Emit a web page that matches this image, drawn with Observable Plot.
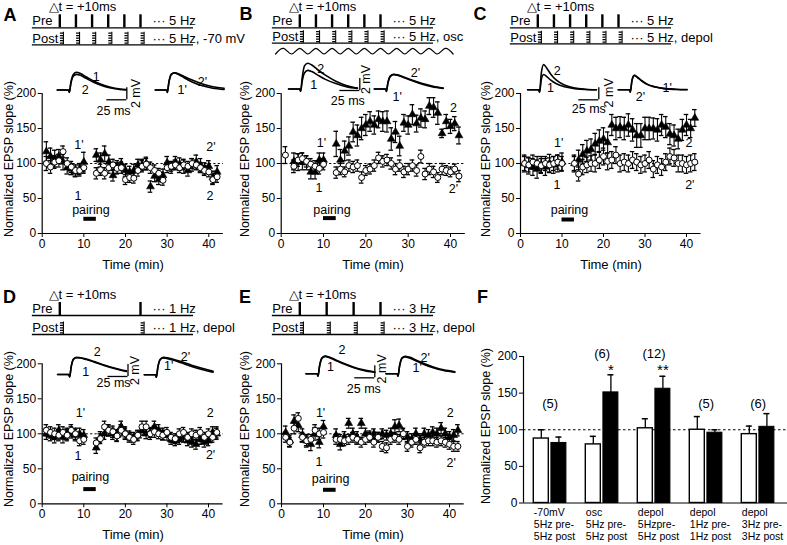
<!DOCTYPE html>
<html>
<head>
<meta charset="utf-8">
<script src="https://cdn.jsdelivr.net/npm/d3@7"></script>
<script src="https://cdn.jsdelivr.net/npm/@observablehq/plot@0.6"></script>
<style>
html,body{margin:0;padding:0;background:#fff;}
#fig{position:relative;width:787px;height:545px;overflow:hidden;background:#fff;font-family:"Liberation Sans",Arial,Helvetica,sans-serif;color:#000;}
#fig svg{position:absolute;left:0;top:0;}
.t{position:absolute;white-space:nowrap;line-height:1;transform:translate(-50%,-50%);}
</style>
</head>
<body>
<div id="fig"></div>
<script>
// ---------------- data ----------------
const minutes = [1,2,3,4,5,6,7,8,9,10,13,14,15,16,17,18,19,20,21,22,23,24,25,26,27,28,29,30,31,32,33,34,35,36,37,38,39,40,41,42];
const yTicks = [0,50,100,150,200];
const xTicks = [0,10,20,30,40];
const pairingMin = [10,13];

// Panel A (-70 mV)
const triA     = [117,110,107,110,102,94,92,88,92,102, 112,105,114,102,83,95,99,90,88,90,98,98,100,67,82,77,83,101,94,102,99,96,90,98,102,98,93,96,80,88];
const triAErr  = [14,12,12,10,11,9,8,7,8,14, 9,10,11,10,8,9,8,9,8,9,8,8,9,8,8,7,9,9,8,8,9,10,8,9,10,9,8,8,9,9];
const circA    = [100,95,102,104,117,100,95,90,90,94, 86,91,86,94,98,93,94,77,80,79,90,96,99,94,90,86,76,94,96,98,94,98,96,100,98,94,90,88,77,81];
const circAErr = [10,9,9,9,8,8,8,8,8,8, 8,8,8,8,8,8,8,7,7,7,8,8,8,8,8,7,7,7,7,7,7,7,7,7,7,7,7,7,7,8];

// Panel B (osc)
const triB     = [null,null,103,102,103,101,88,88,105,105, 128,105,118,125,145,140,150,155,160,155,163,160,160,135,145,125,158,155,170,157,165,163,182,180,172,143,160,153,157,140];
const triBErr  = [null,null,12,12,12,10,10,10,10,10, 18,15,14,13,14,15,16,15,14,13,12,14,15,16,15,14,12,13,14,12,13,12,12,14,16,6,10,10,10,12];
const circB    = [112,null,96,105,107,103,99,96,93,99, 87,92,88,97,95,97,80,90,92,97,108,103,105,100,92,97,88,92,97,90,110,85,92,88,80,92,90,88,92,82];
const circBErr = [12,null,9,9,8,8,8,8,8,8, 8,8,7,8,8,8,8,7,7,8,8,8,8,8,8,8,8,8,8,8,9,8,8,8,7,8,7,7,7,8];

// Panel C (depol, 5 Hz)
const triC     = [100,97,95,92,98,95,100,98,100,102, 100,105,113,118,120,128,132,135,130,155,150,152,150,155,148,140,140,150,150,150,148,155,152,142,140,135,148,155,150,165];
const triCErr  = [12,12,12,13,12,12,13,12,12,13, 12,14,14,15,15,15,16,16,15,15,16,15,16,16,16,17,17,16,16,15,16,15,15,15,15,14,15,15,13,12];
const circC    = [100,98,102,100,97,100,98,100,102,100, 100,85,95,98,100,100,105,110,103,105,112,100,102,100,105,102,98,100,105,92,98,95,102,110,108,100,100,98,100,102];
const circCErr = [10,10,10,10,10,10,10,10,10,10, 10,10,11,11,11,12,12,12,12,12,12,12,12,12,12,12,12,12,12,12,12,12,12,12,12,12,12,12,12,12];

// Panel D (depol, 1 Hz)
const triD     = [100,98,95,105,95,100,102,98,100,98, 80,95,100,105,100,98,110,102,97,95,97,105,100,102,110,105,100,98,92,90,92,95,90,88,85,92,88,90,102,100];
const triDErr  = [8,8,8,8,8,8,8,8,8,8, 8,8,8,8,8,8,8,8,7,7,7,7,7,7,8,8,8,7,7,7,7,7,7,7,7,7,7,7,8,8];
const circD    = [105,102,100,98,102,98,105,100,90,92, 87,93,110,105,103,97,105,100,95,92,98,110,110,100,103,100,98,102,95,93,100,102,95,100,98,102,95,100,95,102];
const circDErr = [8,8,8,8,8,8,8,8,7,7, 7,7,8,8,8,8,8,8,7,7,7,8,8,8,8,7,7,7,7,7,7,7,7,7,7,7,7,7,7,8];

// Panel E (depol, 3 Hz)
const triE     = [102,90,118,112,98,90,85,100,88,110, 98,85,95,115,100,95,115,100,97,100,95,100,98,100,110,112,100,95,92,100,92,100,98,102,100,108,100,95,98,105];
const triEErr  = [9,8,9,9,9,9,9,9,8,9, 9,8,8,7,8,8,7,8,7,7,7,7,7,8,10,9,8,8,8,8,8,8,8,8,8,8,8,8,8,8];
const circE    = [95,88,108,122,95,90,92,105,100,102, 92,92,90,92,95,92,88,92,95,88,95,82,80,92,95,92,100,82,88,92,80,88,90,90,88,90,88,85,82,82];
const circEErr = [7,7,8,8,7,7,7,8,8,8, 7,7,7,7,7,7,7,7,7,7,7,7,7,7,7,7,7,7,7,7,7,7,7,7,7,7,7,7,7,7];

// schematics: pulse times (ms)
const pulses5Hz = [0,200,400,600,800,1000];
const pulses3Hz = [0,333,667,1000];
const pulses1Hz = [0,1000];
const oscMs    = [-300,-200,-100,0,100,200,300,400,500,600,700,800,900,1000,1100,1200,1300,1400,1500,1600,1700,1800,1900];
const oscLevel = [-1,1,-1,1,-1,1,-1,1,-1,1,-1,1,-1,1,-1,1,-1,1,-1,1,-1,1,-1];

// EPSP traces (mV at traceMs)
const traceMs  = [-14,0,1,3,6,10,15,22,32,45,58,72];
const traceA1  = [0,0,-0.4,1.3,2.6,2.95,2.75,2.2,1.45,0.75,0.3,0.08];
const traceA2  = [0,0,-0.4,1.1,2.3,2.6,2.45,1.95,1.25,0.6,0.2,0.0];
const traceA1p = [0,0,-0.4,1.3,2.6,2.85,2.6,2.05,1.35,0.7,0.3,0.1];
const traceA2p = [0,0,-0.4,1.3,2.6,2.85,2.7,2.25,1.65,1.0,0.55,0.3];
const traceB1  = [0,0,-0.4,1.3,2.7,3.1,2.9,2.35,1.6,0.9,0.4,0.1];
const traceB2  = [0,0,-0.4,1.9,3.9,4.3,4.0,3.25,2.3,1.3,0.6,0.15];
const traceB1p = [0,0,-0.4,1.0,2.1,2.4,2.3,1.95,1.45,0.85,0.4,0.1];
const traceB2p = [0,0,-0.4,1.0,2.15,2.45,2.35,2.05,1.55,0.95,0.5,0.15];
const traceC1  = [0,0,-0.4,1.6,2.55,2.2,1.6,1.0,0.5,0.2,0.05,0];
const traceC2  = [0,0,-0.4,2.6,4.2,3.6,2.6,1.6,0.8,0.3,0.1,0];
const traceC1p = [0,0,-0.4,1.5,2.4,2.1,1.55,0.95,0.5,0.2,0.1,0.05];
const traceC2p = [0,0,-0.4,1.5,2.4,2.05,1.5,0.9,0.45,0.15,0.05,0];
const traceD1  = [0,0,-0.4,1.3,2.55,2.8,2.75,2.5,2.05,1.45,0.95,0.5];
const traceD2  = [0,0,-0.4,1.3,2.6,2.85,2.8,2.58,2.15,1.55,1.05,0.6];
const traceD1p = [0,0,-0.4,1.3,2.55,2.8,2.7,2.45,2.0,1.4,0.9,0.45];
const traceD2p = [0,0,-0.4,1.3,2.6,2.9,2.82,2.6,2.2,1.6,1.1,0.6];
const traceE1  = [0,0,-0.4,1.3,2.6,2.9,2.7,2.3,1.7,1.05,0.55,0.25];
const traceE2  = [0,0,-0.4,1.35,2.65,2.95,2.78,2.4,1.8,1.15,0.65,0.3];
const traceE1p = [0,0,-0.4,1.3,2.55,2.8,2.65,2.25,1.65,1.0,0.55,0.25];
const traceE2p = [0,0,-0.4,1.35,2.65,2.92,2.78,2.4,1.8,1.15,0.65,0.35];
const scaleBarMv = 2, scaleBarMs = 25;

// Panel F
const fConds    = ["-70mV","osc","depol 5Hz","depol 1Hz","depol 3Hz"];
const fLabels   = ["-70mV\n5Hz pre-\n5Hz post","osc\n5Hz pre-\n5Hz post","depol\n5Hzpre-\n5Hz post","depol\n1Hz pre-\n1Hz post","depol\n3Hz pre-\n3Hz post"];
const fPre      = [88,80,102,100,94];
const fPreErr   = [12,11,13,18,11];
const fPost     = [82,151,156,96,104];
const fPostErr  = [8,24,17,4,18];
const fN        = ["(5)","(6)","(12)","(5)","(6)"];
const fStars    = ["","*","**","",""];

// ---------------- drawing ----------------
const W = 787, H = 545;
const FONT = '"Liberation Sans", Arial, Helvetica, sans-serif';
const fig = document.getElementById("fig");

function overlay(o) {
  const svg = Plot.plot({
    width: W, height: H,
    marginLeft: o.xRange[0], marginRight: W - o.xRange[1],
    marginTop: o.yRange[1], marginBottom: H - o.yRange[0],
    x: Object.assign({domain: o.xDomain, label: null}, o.x || {}),
    y: Object.assign({domain: o.yDomain, label: null}, o.y || {}),
    style: {background: "transparent", overflow: "visible", fontFamily: FONT, fontSize: "12px", color: "#000"},
    marks: o.marks
  });
  fig.appendChild(svg);
}

function htmlText(s, x, y, size, opts = {}) {
  const d = document.createElement("div");
  d.className = "t";
  d.textContent = s;
  d.style.left = x + "px";
  d.style.top = y + "px";
  d.style.fontSize = size + "px";
  if (opts.bold) d.style.fontWeight = "bold";
  if (opts.rotate) d.style.transform = "translate(-50%,-50%) rotate(" + opts.rotate + "deg)";
  fig.appendChild(d);
}

function rows(v, e) {
  return minutes.map((t, i) => ({t, v: v[i], e: e[i]})).filter(d => d.v != null);
}

function errMarks(data) {
  return [
    Plot.ruleX(data, {x: "t", y1: d => d.v - d.e, y2: d => d.v + d.e, stroke: "#000", strokeWidth: 1.1}),
    Plot.ruleY(data, {y: d => d.v + d.e, x1: d => d.t - 0.55, x2: d => d.t + 0.55, stroke: "#000", strokeWidth: 1.3}),
    Plot.ruleY(data, {y: d => d.v - d.e, x1: d => d.t - 0.55, x2: d => d.t + 0.55, stroke: "#000", strokeWidth: 1.3})
  ];
}

function timePanel(P) {
  const xMax = 43.5;
  const k = (P.x40 - P.x0) / 40;
  const tri = rows(P.tri, P.triErr);
  const circ = rows(P.circ, P.circErr);
  overlay({
    xDomain: [0, xMax], xRange: [P.x0, P.x0 + xMax * k],
    yDomain: [0, 200], yRange: [P.y0, P.y200],
    marks: [
      Plot.ruleY([100], {x1: 0, x2: xMax, stroke: "#000", strokeWidth: 1, strokeDasharray: "2.2,2.2"}),
      Plot.ruleX([0], {y1: 0, y2: 200, stroke: "#000", strokeWidth: 1.2}),
      Plot.ruleY([0], {x1: 0, x2: xMax, stroke: "#000", strokeWidth: 1.2}),
      Plot.axisY({ticks: yTicks, tickSize: 4, tickPadding: 2, label: null, fontSize: 12}),
      Plot.axisX({ticks: xTicks, tickSize: 4, tickPadding: 2, label: null, fontSize: 12}),
      ...errMarks(tri),
      Plot.dot(tri, {x: "t", y: "v", symbol: "triangle", r: 2.9, fill: "#000", stroke: "#000", strokeWidth: 0.6}),
      ...errMarks(circ),
      Plot.dot(circ, {x: "t", y: "v", r: 3, fill: "#fff", stroke: "#000", strokeWidth: 1}),
      Plot.ruleY([P.pairY], {x1: pairingMin[0], x2: pairingMin[1], stroke: "#000", strokeWidth: 4}),
      Plot.text([P.pairText], {x: "x", y: "y", text: () => "pairing", fontSize: 12.5}),
      Plot.text(P.labels, {x: "x", y: "y", text: "s", fontSize: 12.5})
    ]
  });
  htmlText("Time (min)", P.xTitle[0], P.xTitle[1], 13);
  htmlText("Normalized EPSP slope (%)", P.yTitle[0], P.yTitle[1], 12.5, {rotate: -90});
}

function schematic(S) {
  const k = 0.0807;
  const gap = S.postBase - S.preBase;
  const L = -340, R = 1657;
  const marks = [
    Plot.ruleY([gap, 0], {x1: L, x2: R, stroke: "#000", strokeWidth: 1.3}),
    Plot.ruleX(S.pulses, {y1: gap, y2: gap + 13, stroke: "#000", strokeWidth: 2.4}),
    Plot.ruleX(S.pulses, {y1: 0.5, y2: 12.5, dx: 1.7, stroke: "#000", strokeWidth: 3.2, strokeDasharray: "1.3,1.2"}),
    Plot.ruleX(S.pulses, {y1: 0, y2: 12.5, dx: 3.6, stroke: "#000", strokeWidth: 1.1}),
    Plot.text([{x: L, y: gap + 6.8, s: "Pre"}, {x: L, y: 6.3, s: "Post"}, {x: 1149, y: gap + 6.8, s: S.preText}, {x: 1149, y: 6.3, s: S.postText}],
      {x: "x", y: "y", text: "s", textAnchor: "start", fontSize: 13}),
    Plot.text([{x: -140, y: gap + 20.7, s: "\u25B3t = +10ms"}], {x: "x", y: "y", text: "s", textAnchor: "start", fontSize: 13})
  ];
  if (S.osc) {
    marks.push(Plot.line(oscMs.map((m, i) => ({m, v: oscLevel[i]})),
      {x: "m", y: d => -8 + 2.8 * d.v, curve: "natural", stroke: "#000", strokeWidth: 1.2}));
  }
  overlay({
    xDomain: [-500, 2500], xRange: [S.p0 - 500 * k, S.p0 + 2500 * k],
    yDomain: [-30, 40], yRange: [S.postBase + 30, S.postBase - 40],
    x: {axis: null}, y: {axis: null},
    marks
  });
}

function inset(I) {
  const kx = 0.8, ky = 6;
  const marks = I.traces.map(tr => Plot.line(traceMs.map((m, i) => ({m, v: tr[i]})),
    {x: "m", y: "v", curve: "monotone-x", stroke: "#000", strokeWidth: 1.6}));
  marks.push(Plot.text(I.labels, {x: "x", y: "y", text: "s", fontSize: 12.5}));
  if (I.bar) {
    const [bx, by] = I.bar;
    marks.push(Plot.ruleX([bx], {y1: by, y2: by + scaleBarMv, stroke: "#000", strokeWidth: 1.3}));
    marks.push(Plot.ruleY([by], {x1: bx - scaleBarMs, x2: bx, stroke: "#000", strokeWidth: 1.3}));
    marks.push(Plot.text([{x: bx, y: by}], {x: "x", y: "y", text: () => "2 mV", rotate: -90, dx: I.mvOff[0], dy: I.mvOff[1], fontSize: 12.5}));
    marks.push(Plot.text([{x: bx, y: by}], {x: "x", y: "y", text: () => "25 ms", dx: I.msOff[0], dy: I.msOff[1], fontSize: 12.5}));
  }
  overlay({
    xDomain: [-20, 100], xRange: [I.t0 - 20 * kx, I.t0 + 100 * kx],
    yDomain: [-5, 6], yRange: [I.base + 5 * ky, I.base - 6 * ky],
    x: {axis: null}, y: {axis: null},
    marks
  });
}

// ---- schematics
schematic({p0: 59.3, preBase: 27.3, postBase: 44.3, pulses: pulses5Hz, preText: "\u00B7\u00B7\u00B7 5 Hz", postText: "\u00B7\u00B7\u00B7 5 Hz, -70 mV"});
schematic({p0: 299.3, preBase: 27.3, postBase: 42.7, pulses: pulses5Hz, preText: "\u00B7\u00B7\u00B7 5 Hz", postText: "\u00B7\u00B7\u00B7 5 Hz, osc", osc: true});
schematic({p0: 537.3, preBase: 27.3, postBase: 43.3, pulses: pulses5Hz, preText: "\u00B7\u00B7\u00B7 5 Hz", postText: "\u00B7\u00B7\u00B7 5 Hz, depol"});
schematic({p0: 59.3, preBase: 315, postBase: 334, pulses: pulses1Hz, preText: "\u00B7\u00B7\u00B7 1 Hz", postText: "\u00B7\u00B7\u00B7 1 Hz, depol"});
schematic({p0: 299.3, preBase: 315, postBase: 334, pulses: pulses3Hz, preText: "\u00B7\u00B7\u00B7 3 Hz", postText: "\u00B7\u00B7\u00B7 3 Hz, depol"});

// ---- EPSP insets
inset({t0: 68, base: 89.5, traces: [traceA1, traceA2], labels: [{x: 34.6, y: 2.25, s: "1"}, {x: 21, y: 0.03, s: "2"}],
  bar: [72.9, -1.63], mvOff: [8.7, -6.3], msOff: [-13.3, 11.7]});
inset({t0: 166, base: 89.5, traces: [traceA1p, traceA2p], labels: [{x: 45, y: 1.4, s: "2'"}, {x: 19.6, y: 0.03, s: "1'"}]});
inset({t0: 299.3, base: 88.5, traces: [traceB1, traceB2], labels: [{x: 26, y: 3.4, s: "2"}, {x: 17.5, y: 0.6, s: "1"}],
  bar: [75, -0.25], mvOff: [6.5, -11], msOff: [-12, 10]});
inset({t0: 385, base: 88.5, traces: [traceB1p, traceB2p], labels: [{x: 37.5, y: 2.6, s: "2'"}, {x: 14.6, y: -1.4, s: "1'"}]});
inset({t0: 538.3, base: 89.3, traces: [traceC1, traceC2], labels: [{x: 23, y: 3.2, s: "2"}, {x: 14.6, y: 0.33, s: "1"}],
  bar: [75, -1.67], mvOff: [9.7, -7], msOff: [-10, 9]});
inset({t0: 629, base: 89.3, traces: [traceC1p, traceC2p], labels: [{x: 47, y: 0.33, s: "1'"}, {x: 13.75, y: -1.23, s: "2'"}]});
inset({t0: 68.3, base: 374, traces: [traceD1, traceD2], labels: [{x: 35.5, y: 3.7, s: "2"}, {x: 21, y: 0.5, s: "1"}],
  bar: [74, -0.33], mvOff: [7.3, -6], msOff: [-14.4, 7]});
inset({t0: 155, base: 374.3, traces: [traceD1p, traceD2p], labels: [{x: 37.5, y: 3.05, s: "2'"}, {x: 16.6, y: 1.55, s: "1'"}]});
inset({t0: 316.7, base: 373.3, traces: [traceE1, traceE2], labels: [{x: 31, y: 3.9, s: "2"}, {x: 16.6, y: 1.1, s: "1"}],
  bar: [72, -0.67], mvOff: [7.4, -9], msOff: [-11, 11]});
inset({t0: 396.7, base: 373.3, traces: [traceE1p, traceE2p], labels: [{x: 35, y: 2.67, s: "2'"}, {x: 25, y: 1.0, s: "1'"}]});

// ---- time-course panels
timePanel({x0: 41.7, x40: 208.3, y0: 233, y200: 93, tri: triA, triErr: triAErr, circ: circA, circErr: circAErr,
  pairY: 21, pairText: {x: 11.7, y: 34},
  labels: [{x: 8.8, y: 126, s: "1'"}, {x: 8.6, y: 53, s: "1"}, {x: 40.5, y: 124, s: "2'"}, {x: 40.3, y: 53, s: "2"}],
  xTitle: [133, 263.5], yTitle: [9, 159]});
timePanel({x0: 280.7, x40: 450, y0: 233, y200: 93, tri: triB, triErr: triBErr, circ: circB, circErr: circBErr,
  pairY: 22, pairText: {x: 12, y: 33},
  labels: [{x: 9.5, y: 129, s: "1'"}, {x: 8.9, y: 65, s: "1"}, {x: 40.7, y: 180, s: "2"}, {x: 40.7, y: 63, s: "2'"}],
  xTitle: [373, 263.5], yTitle: [245, 159]});
timePanel({x0: 520, x40: 686, y0: 233, y200: 93, tri: triC, triErr: triCErr, circ: circC, circErr: circCErr,
  pairY: 20, pairText: {x: 11.8, y: 34},
  labels: [{x: 9.2, y: 129, s: "1'"}, {x: 8.8, y: 69, s: "1"}, {x: 40.6, y: 130, s: "2"}, {x: 40.8, y: 69, s: "2'"}],
  xTitle: [611, 263.5], yTitle: [486, 159]});
timePanel({x0: 41.7, x40: 208, y0: 503.3, y200: 363.3, tri: triD, triErr: triDErr, circ: circD, circErr: circDErr,
  pairY: 21, pairText: {x: 11.6, y: 38},
  labels: [{x: 9.2, y: 130, s: "1'"}, {x: 8.6, y: 69, s: "1"}, {x: 40.4, y: 130, s: "2"}, {x: 40.5, y: 70, s: "2'"}],
  xTitle: [133, 534], yTitle: [9, 429]});
timePanel({x0: 281, x40: 449, y0: 503.3, y200: 363.3, tri: triE, triErr: triEErr, circ: circE, circErr: circEErr,
  pairY: 20, pairText: {x: 11.7, y: 35},
  labels: [{x: 9.3, y: 130, s: "1'"}, {x: 8.9, y: 60, s: "1"}, {x: 40.2, y: 130, s: "2"}, {x: 40.4, y: 59, s: "2'"}],
  xTitle: [373, 534], yTitle: [245, 429]});

// ---- panel F
overlay({
  xDomain: [0, 1], xRange: [523, 787],
  yDomain: [0, 200], yRange: [502.5, 356],
  x: {axis: null},
  marks: [
    Plot.ruleY([100], {x1: 0, x2: 1, stroke: "#000", strokeWidth: 1, strokeDasharray: "2.5,2.5"}),
    Plot.ruleX([0], {y1: 0, y2: 200, stroke: "#000", strokeWidth: 1.2}),
    Plot.ruleY([0], {x1: 0, x2: 1, stroke: "#000", strokeWidth: 1.2}),
    Plot.axisY({ticks: yTicks, tickSize: 4, tickPadding: 2, label: null, fontSize: 12})
  ]
});
const fRows = fConds.map((c, i) => ({c, label: fLabels[i], pre: fPre[i], preE: fPreErr[i], post: fPost[i], postE: fPostErr[i], n: fN[i], star: fStars[i]}));
overlay({
  xDomain: fConds, xRange: [533.3, 773.9],
  yDomain: [0, 200], yRange: [502.5, 356],
  x: {type: "band", paddingInner: 0.373, paddingOuter: 0, round: false, axis: null},
  y: {axis: null},
  marks: [
    Plot.ruleX(fRows, {x: "c", y1: "pre", y2: d => d.pre + d.preE, dx: -8.8, stroke: "#000", strokeWidth: 1.3}),
    Plot.tickY(fRows, {x: "c", y: d => d.pre + d.preE, insetLeft: 4.5, insetRight: 22.1, stroke: "#000", strokeWidth: 1.5}),
    Plot.ruleX(fRows, {x: "c", y1: "post", y2: d => d.post + d.postE, dx: 8.8, stroke: "#000", strokeWidth: 1.3}),
    Plot.tickY(fRows, {x: "c", y: d => d.post + d.postE, insetLeft: 22.1, insetRight: 4.5, stroke: "#000", strokeWidth: 1.5}),
    Plot.barY(fRows, {x: "c", y: "pre", fill: "#fff", stroke: "#000", strokeWidth: 1.4, insetRight: 17.6}),
    Plot.barY(fRows, {x: "c", y: "post", fill: "#000", stroke: "#000", strokeWidth: 1, insetLeft: 17.6}),
    Plot.text(fRows, {x: "c", y: d => (d.post > 130 ? 203 : 136), text: "n", fontSize: 13}),
    Plot.text(fRows, {x: "c", y: 185, text: "star", dx: 8.8, dy: 3, fontSize: 15}),
    Plot.text(fRows, {x: "c", y: 0, text: "label", textAnchor: "start", lineAnchor: "top", dx: -16.3, dy: 5, fontSize: 10.5, lineHeight: 1.12})
  ]
});
htmlText("Normalized EPSP slope (%)", 486, 426, 12.5, {rotate: -90});

// ---- panel letters
htmlText("A", 10, 14.5, 18, {bold: true});
htmlText("B", 246, 13.5, 18, {bold: true});
htmlText("C", 480, 14, 18, {bold: true});
htmlText("D", 9.5, 296.5, 18, {bold: true});
htmlText("E", 245, 296.5, 18, {bold: true});
htmlText("F", 482.5, 296.5, 18, {bold: true});
</script>
</body>
</html>
